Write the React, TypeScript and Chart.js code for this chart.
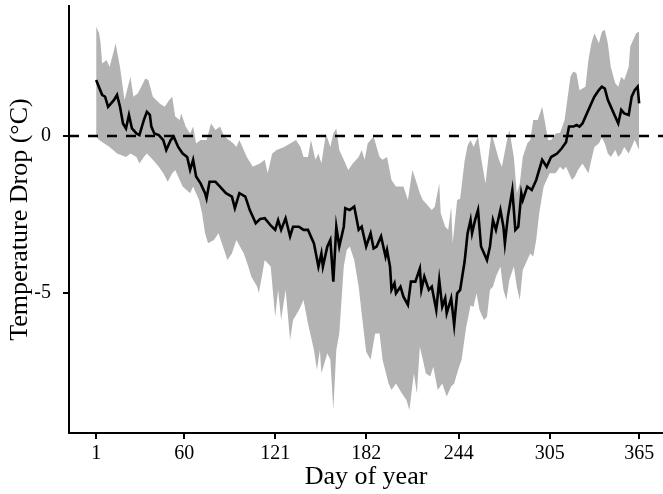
import React, { useEffect, useRef } from "react";
import { Chart, registerables } from "chart.js";

Chart.register(...registerables);

const xTickValues = [1, 60, 121, 182, 244, 305, 365];
const yTickValues = [-5, 0];
const xMin = -17.2;
const xMax = 381;
const yMin = -9.46;
const yMax = 4.14;
const refValue = 0;

const meanDays = [1,5,7,9,13,15,17,19,21,23,25,28,30,33,35,37,38,40,43,46,48,51,53,56,59,62,64,66,68,71,74,75,77,81,84,88,92,94,97,101,104,108,111,114,118,121,123,125,128,131,133,137,140,143,147,150,152,153,156,158,160,162,164,167,168,171,174,177,179,182,185,187,189,192,195,196,198,199,201,202,205,207,210,212,215,218,219,221,224,226,229,231,233,235,236,239,241,243,245,248,250,252,253,255,257,259,263,265,267,269,272,274,275,277,280,282,284,286,287,290,293,296,300,303,306,310,313,316,318,321,323,325,327,330,333,335,338,340,342,344,348,351,353,355,358,360,362,364,365];
const meanVals = [1.78,1.31,1.25,0.93,1.15,1.31,0.93,0.4,0.24,0.67,0.24,0.08,0.03,0.51,0.77,0.67,0.3,0.08,0.03,-0.13,-0.45,-0.13,-0.02,-0.35,-0.56,-0.67,-1.08,-0.76,-1.29,-1.51,-1.82,-1.99,-1.46,-1.46,-1.61,-1.82,-1.93,-2.3,-1.82,-1.93,-2.36,-2.78,-2.64,-2.62,-2.85,-2.99,-2.68,-2.99,-2.62,-3.2,-2.89,-2.89,-2.99,-2.99,-3.42,-4.16,-3.74,-4.16,-3.52,-3.31,-4.64,-2.89,-3.52,-2.89,-2.3,-2.36,-2.25,-2.99,-2.89,-3.52,-3.1,-3.58,-3.52,-3.2,-3.84,-3.63,-4.16,-4.9,-4.69,-5.01,-4.8,-5.12,-5.38,-4.64,-4.64,-4.22,-4.9,-4.48,-4.9,-4.8,-5.54,-4.59,-5.44,-5.17,-5.65,-5.17,-6.02,-5.01,-4.9,-4.0,-3.1,-2.68,-3.1,-2.68,-2.36,-3.52,-3.95,-3.52,-2.68,-2.99,-2.36,-2.89,-3.42,-2.57,-1.72,-2.99,-2.89,-1.82,-2.04,-1.61,-1.72,-1.4,-0.76,-0.98,-0.67,-0.56,-0.4,-0.2,0.3,0.3,0.35,0.3,0.4,0.72,1.04,1.25,1.46,1.57,1.51,1.15,0.72,0.4,0.83,0.72,0.67,1.25,1.46,1.57,1.04];

const upperDays = [1,3,4,5,8,10,13,14,17,20,24,26,29,34,36,39,44,47,50,52,54,57,58,61,64,66,68,71,75,78,81,84,87,93,95,97,102,106,111,114,116,119,122,127,131,135,138,140,143,145,148,150,152,155,158,160,162,164,167,170,173,177,179,181,183,187,189,191,193,196,199,202,207,210,213,216,218,220,222,226,228,231,232,235,237,239,240,243,245,248,250,252,254,257,259,262,264,266,268,271,273,276,278,281,283,285,287,290,292,294,297,300,302,304,306,309,312,315,317,319,321,323,325,329,331,333,335,338,340,342,344,346,349,351,353,355,358,359,361,363,365];
const upperVals = [3.48,3.27,2.95,2.31,2.42,2.2,2.74,2.95,2.2,1.15,1.89,1.25,1.36,1.83,1.78,1.25,1.02,0.93,1.15,1.25,0.62,0.51,0.72,0.3,0.08,0.3,-0.24,-0.13,-0.13,0.4,0.19,0.3,-0.02,-0.24,-0.35,-0.13,-0.67,-0.98,-0.87,-0.76,-1.19,-0.56,-0.45,-0.35,-0.24,-0.13,-0.35,-0.67,-0.67,-0.13,-0.76,-0.56,-0.88,0.08,-0.35,0.08,0.24,-0.45,-0.76,-1.08,-0.88,-0.67,-0.45,-0.76,-0.24,-0.02,-0.35,-0.67,-0.76,-0.67,-1.4,-1.61,-1.61,-2.04,-1.08,-1.51,-1.82,-2.04,-2.14,-2.36,-2.25,-1.51,-2.46,-2.89,-2.99,-2.25,-3.42,-2.04,-2.0,-0.8,-0.3,-0.13,-0.35,-0.02,-0.67,-1.51,-0.67,0.08,-0.24,-0.76,-0.98,-0.24,0.19,-0.67,-1.82,-1.51,-0.67,-0.24,-0.13,0.51,0.51,0.93,0.4,-0.13,-0.13,0.08,0.1,0.5,1.2,1.9,2.05,2.0,1.46,1.57,2.42,2.95,3.27,2.95,3.32,3.38,2.95,2.2,1.68,1.57,1.89,1.78,2.2,2.84,3.06,3.27,3.32];

const lowerDays = [1,3,10,15,21,24,28,30,33,35,39,43,46,49,52,54,57,59,64,66,70,72,74,76,80,83,86,89,92,95,100,103,105,109,110,112,114,118,121,123,125,128,131,133,137,140,143,147,149,151,152,156,158,160,162,164,167,169,171,174,177,179,182,185,188,191,193,197,199,202,206,209,211,214,216,218,220,222,225,227,230,233,236,239,241,244,246,249,252,254,256,258,261,263,265,267,269,272,274,276,278,281,283,285,287,290,292,294,296,298,301,303,305,309,312,314,316,320,322,324,327,331,333,335,338,340,342,344,346,349,351,353,355,358,360,362,365];
const lowerVals = [-0.02,-0.13,-0.35,-0.56,-0.67,-0.56,-0.67,-0.88,-0.67,-0.56,-0.76,-0.98,-1.19,-1.46,-1.19,-1.08,-1.4,-1.61,-1.82,-1.61,-2.04,-2.46,-3.1,-3.42,-3.31,-3.1,-3.52,-3.95,-3.74,-3.31,-3.74,-4.16,-4.48,-4.8,-5.01,-4.5,-3.95,-4.16,-5.76,-4.9,-5.86,-4.9,-6.5,-5.86,-5.54,-5.22,-5.97,-6.82,-7.45,-6.82,-7.56,-6.92,-7.13,-8.73,-6.82,-6.29,-4.16,-3.63,-3.52,-3.95,-4.8,-5.65,-6.87,-7.13,-6.29,-6.29,-7.13,-7.88,-8.09,-7.88,-8.2,-8.41,-8.73,-7.56,-8.2,-6.71,-7.13,-7.56,-7.66,-7.35,-8.09,-7.88,-8.3,-7.98,-7.88,-7.4,-7.13,-6.1,-5.4,-5.44,-5.01,-5.54,-5.86,-5.76,-4.9,-4.8,-4.48,-4.16,-4.9,-5.22,-4.59,-4.16,-4.8,-5.22,-4.27,-3.95,-3.74,-3.84,-3.31,-2.46,-1.61,-1.4,-1.19,-1.19,-0.98,-1.08,-0.98,-1.4,-1.29,-1.08,-0.88,-1.19,-0.76,-0.35,-0.24,-0.05,-0.24,-0.56,-0.67,-0.45,-0.67,-0.56,-0.35,-0.56,-0.35,-0.13,-0.45];

const zip = (xs: number[], ys: number[]) => xs.map((x, i) => ({ x, y: ys[i] }));

const FONT = "'Liberation Serif', 'Times New Roman', serif";

export default function App() {
  const ref = useRef<HTMLCanvasElement | null>(null);

  useEffect(() => {
    if (!ref.current) return;
    const chart = new Chart(ref.current, {
      type: "line",
      data: {
        datasets: [
          {
            label: "mean",
            data: zip(meanDays, meanVals),
            borderColor: "#000000",
            borderWidth: 2.6,
            pointRadius: 0,
            fill: false,
            tension: 0,
          },
          {
            label: "zero",
            data: [{ x: xMin, y: refValue }, { x: xMax, y: refValue }],
            borderColor: "#000000",
            borderWidth: 2.5,
            borderDash: [10, 9],
            pointRadius: 0,
            fill: false,
          },
          {
            label: "upper",
            data: zip(upperDays, upperVals),
            borderWidth: 0,
            borderColor: "rgba(0,0,0,0)",
            backgroundColor: "#b3b3b3",
            pointRadius: 0,
            fill: "+1",
            tension: 0,
          },
          {
            label: "lower",
            data: zip(lowerDays, lowerVals),
            borderWidth: 0,
            borderColor: "rgba(0,0,0,0)",
            pointRadius: 0,
            fill: false,
            tension: 0,
          },
        ],
      },
      options: {
        animation: false,
        responsive: false,
        devicePixelRatio: 1,
        layout: { padding: { top: 6, right: 0, left: 0, bottom: 0 } },
        plugins: {
          legend: { display: false },
          tooltip: { enabled: false },
        },
        scales: {
          x: {
            type: "linear",
            min: xMin,
            max: xMax,
            afterBuildTicks: (scale: any) => {
              scale.ticks = xTickValues.map((v) => ({ value: v }));
            },
            afterFit: (scale: any) => {
              scale.height = 61;
              scale.paddingLeft = 0;
              scale.paddingRight = 0;
            },
            ticks: {
              color: "#000000",
              font: { family: FONT, size: 20 },
              padding: 3,
              maxRotation: 0,
              autoSkip: false,
            },
            grid: {
              display: true,
              drawOnChartArea: false,
              drawTicks: true,
              tickLength: 6,
              color: "#000000",
              lineWidth: 2,
            },
            border: { display: true, color: "#000000", width: 2 },
            title: {
              display: true,
              text: "Day of year",
              color: "#000000",
              font: { family: FONT, size: 26, lineHeight: 1.2 },
              padding: { top: 0, bottom: 1 },
            },
          },
          y: {
            type: "linear",
            min: yMin,
            max: yMax,
            afterBuildTicks: (scale: any) => {
              scale.ticks = yTickValues.map((v) => ({ value: v }));
            },
            afterFit: (scale: any) => {
              scale.width = 69;
              scale.paddingTop = 0;
              scale.paddingBottom = 0;
            },
            ticks: {
              color: "#000000",
              font: { family: FONT, size: 20 },
              padding: 12,
              autoSkip: false,
            },
            grid: {
              display: true,
              drawOnChartArea: false,
              drawTicks: true,
              tickLength: 6,
              color: "#000000",
              lineWidth: 2,
            },
            border: { display: true, color: "#000000", width: 2 },
            title: {
              display: true,
              text: "Temperature Drop (°C)",
              color: "#000000",
              font: { family: FONT, size: 26, lineHeight: 1.2 },
              padding: { top: 5, bottom: 0 },
            },
          },
        },
      },
    });
    return () => chart.destroy();
  }, []);

  return (
    <div style={{ position: "fixed", left: 0, top: 0, width: 663, height: 494, background: "#ffffff" }}>
      <canvas ref={ref} width={663} height={494} style={{ width: 663, height: 494, display: "block" }} />
    </div>
  );
}
